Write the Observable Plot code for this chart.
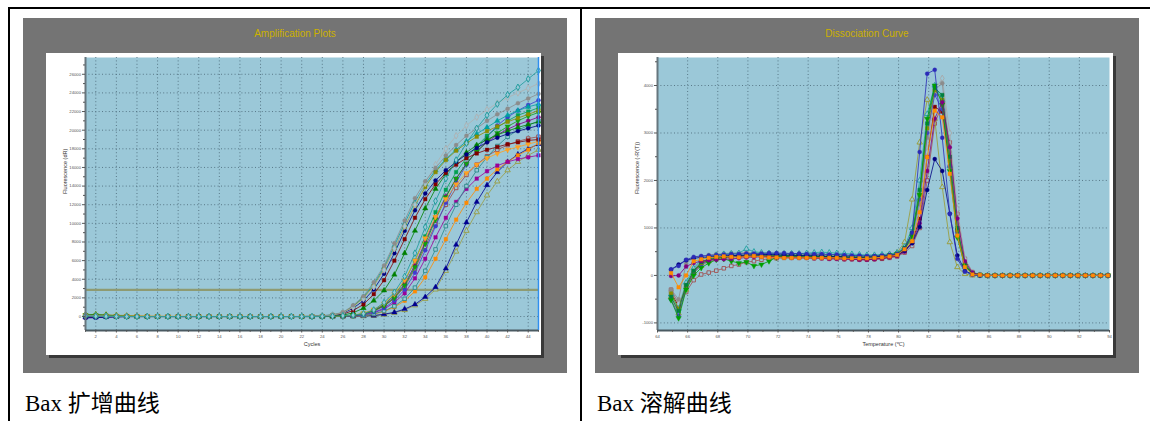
<!DOCTYPE html>
<html><head><meta charset="utf-8">
<script src="https://cdn.jsdelivr.net/npm/d3@7"></script>
<script src="https://cdn.jsdelivr.net/npm/@observablehq/plot@0.6"></script>
<style>
body{margin:0;background:#fff;width:1150px;height:421px;position:relative;overflow:hidden;}
.ln{position:absolute;background:#000;}
.panel{position:absolute;background:#747474;}
.title{position:absolute;font:10px "Liberation Sans",Arial,sans-serif;color:#cdb100;text-align:center;line-height:12px;}
.box{position:absolute;background:#fff;box-shadow:3px 3px 0 #393939;}
.box svg{display:block;}
.cap{position:absolute;font-family:"Liberation Serif","Noto Sans CJK SC",serif;font-size:23px;line-height:1;color:#000;white-space:nowrap;}
</style></head>
<body>
<div class="ln" style="left:8px;top:7px;width:1142px;height:2px"></div>
<div class="ln" style="left:8px;top:7px;width:2px;height:414px"></div>
<div class="ln" style="left:580px;top:7px;width:2px;height:414px"></div>
<div class="panel" style="left:23px;top:18px;width:544px;height:355px"></div>
<div class="panel" style="left:595px;top:18px;width:544px;height:355px"></div>
<div class="title" style="left:23px;top:28px;width:544px">Amplification Plots</div>
<div class="title" style="left:595px;top:28px;width:544px">Dissociation Curve</div>
<div class="box" id="amp" style="left:46px;top:53px;width:495px;height:302px"></div>
<div class="box" id="melt" style="left:618px;top:53px;width:495px;height:302px"></div>
<div class="cap" style="left:25px;top:392px">Bax 扩增曲线</div>
<div class="cap" style="left:597px;top:392px">Bax 溶解曲线</div>
<script>
// ---------- Amplification data ----------
const cycles = [1,2,3,4,5,6,7,8,9,10,11,12,13,14,15,16,17,18,19,20,21,22,23,24,25,26,27,28,29,30,31,32,33,34,35,36,37,38,39,40,41,42,43,44,45];
const ampXTicks = [2,4,6,8,10,12,14,16,18,20,22,24,26,28,30,32,34,36,38,40,42,44];
const ampYTicks = [0,2000,4000,6000,8000,10000,12000,14000,16000,18000,20000,22000,24000,26000];
const ampThreshold = 2865;

const ampA = [150,80,40,20,10,0,0,0,0,0,10,0,0,0,0,10,0,0,0,0,0,10,30,80,200,450,1200,2180,3680,5470,7870,10300,12700,14520,15950,17270,18400,19400,20200,21000,21700,22300,22900,23400,23900];
const ampB = [50,30,20,10,0,0,0,10,0,0,0,0,0,0,0,0,0,0,0,0,0,0,0,20,40,80,150,300,700,1500,2600,4300,6800,9600,12400,14800,16800,18600,20200,21600,22800,23800,24600,25500,26400];
const ampC = [100,60,30,20,10,0,0,0,0,0,0,0,0,0,0,0,10,0,0,0,0,0,20,60,150,400,1000,1900,3200,5000,7300,9700,12000,14300,16300,18000,19400,20500,21400,22200,22900,23500,24000,24500,25000];
const ampD = [120,60,30,10,0,0,0,0,0,0,0,0,0,0,0,0,0,0,0,0,0,0,20,60,160,400,1050,2000,3300,5100,7300,9600,11900,13900,15500,16800,17800,18600,19300,19900,20400,20900,21300,21700,22100];
const ampE = [80,40,20,10,0,0,0,0,0,0,0,0,0,0,0,0,0,0,0,0,0,10,30,80,180,420,1100,2100,3500,5300,7600,10000,12300,14200,15700,16900,17900,18800,19600,20300,21000,21600,22100,22500,22800];
const ampF = [-150,-120,-60,-30,0,0,0,0,0,0,0,0,0,0,0,0,0,0,0,0,0,0,0,50,130,350,900,1700,2900,4600,6800,9200,11400,13200,14600,15700,16600,17400,18100,18700,19200,19600,19900,20200,20500];
const ampG = [60,30,10,0,0,0,0,0,0,0,0,0,0,0,0,0,0,0,0,0,0,0,10,30,100,250,650,1300,2400,3900,6000,8300,10600,12600,14200,15400,16300,17000,17500,17900,18200,18500,18700,18900,19000];
const ampH = [180,200,150,80,40,20,0,0,0,0,0,0,10,0,0,0,0,0,0,0,0,0,0,20,60,150,400,900,1700,2800,4500,6800,9200,11600,13700,15300,16600,17600,18400,19000,19500,19900,20300,20600,20900];
const ampI = [100,80,60,50,40,30,20,20,10,10,10,0,0,0,0,0,0,0,0,0,0,0,0,10,30,60,150,350,750,1400,2400,3900,6000,8400,10700,12600,14200,15400,16300,17000,17500,17900,18200,18500,18800];
const ampJ = [-120,-80,-40,-20,0,0,0,0,0,0,0,0,0,0,0,0,0,0,0,0,0,0,0,10,30,60,120,300,650,1200,2100,3500,5500,8000,10600,12900,14800,16400,17700,18700,19500,20100,20600,21000,21400];
const ampK = [60,40,20,10,0,0,0,0,0,0,0,0,0,0,0,0,0,0,0,0,0,0,0,10,20,50,100,250,550,1100,1950,3200,5100,7500,9900,12000,13800,15200,16300,17200,17900,18400,18800,19100,19300];
const ampL = [90,60,30,10,0,0,0,0,0,0,0,0,0,0,0,0,0,0,0,0,0,0,10,20,40,70,130,320,700,1300,2300,3800,6000,8600,11200,13600,15500,17000,18300,19400,20300,21000,21600,22000,22400];
const ampM = [-60,-40,-20,0,0,0,0,0,0,0,0,0,0,0,0,0,0,0,0,0,0,0,0,10,20,40,80,200,450,900,1700,2900,4700,7100,9700,12200,14400,16300,17900,19300,20500,21400,22100,22700,23200];
const ampN = [120,100,80,60,50,40,30,20,20,10,10,0,0,0,0,0,0,0,0,0,0,0,0,0,10,20,50,100,250,550,1000,1700,2700,4200,6200,8300,10400,12200,13700,14800,15800,16600,17300,17900,18600];
const ampO = [-100,-80,-50,-20,0,0,0,0,0,0,0,0,0,0,0,0,0,0,0,0,0,0,0,0,0,10,30,60,100,250,450,800,1300,2100,3150,5150,7700,10100,12300,14100,15500,16600,17400,18000,18500];
const ampP = [200,220,200,150,100,60,30,10,0,0,0,0,0,0,0,0,0,0,0,0,0,0,0,0,0,10,20,40,80,200,400,700,1200,1900,2900,4900,6970,9200,11200,13000,14500,15700,16600,17300,17900];
const ampQ = [-80,-60,-30,0,0,0,0,0,0,0,0,0,0,0,0,0,0,0,0,0,0,0,0,0,10,30,60,180,400,800,1500,2500,4100,6200,8500,10600,12300,13700,14800,15600,16200,16600,16900,17100,17300];
const ampR = [40,20,10,0,0,0,0,0,0,0,0,0,0,0,0,0,0,0,0,0,0,0,0,0,10,30,60,120,280,600,1100,1900,3100,4900,7200,9700,12000,14000,15700,17100,18300,19300,20000,20500,21000];
const ampS = [150,120,80,40,20,0,0,0,0,0,0,0,0,0,0,0,0,0,0,0,0,0,0,10,20,50,110,280,620,1150,2000,3350,5300,7800,10400,12800,14800,16400,17700,18800,19700,20400,21000,21500,21900];

// ---------- Dissociation data ----------
const temps = [64.9,65.4,65.9,66.4,66.9,67.4,67.9,68.4,68.9,69.4,69.9,70.4,70.9,71.4,71.9,72.4,72.9,73.4,73.9,74.4,74.9,75.4,75.9,76.4,76.9,77.4,77.9,78.4,78.9,79.4,79.9,80.4,80.9,81.4,81.9,82.4,82.9,83.4,83.9,84.4,84.9,85.4,85.9,86.4,86.9,87.4,87.9,88.4,88.9,89.4,89.9,90.4,90.9,91.4,91.9,92.4,92.9,93.4,93.9];
const meltXTicks = [64,66,68,70,72,74,76,78,80,82,84,86,88,90,92,94];
const meltYTicks = [-1000,0,1000,2000,3000,4000];

const meltM1 = [130,200,330,390,410,420, 430,440,450,450,460,460,460,470,470,470,460,460,450,450,450,440,440,430,420,420,410,410,420,430,450, 560,900,2600,4250,4330,2900,1300,350,80,10, 0,0,0,0,0,0,0,0,0,0,0,0,0,0,0,0,0,0];
const meltM2 = [120,230,320,360,380,390, 400,410,420,420,430,430,440,440,440,430,430,420,420,410,410,400,400,390,380,380,380,390,400,410,430, 520,680,1020,1800,2450,2200,1300,420,100,20, 0,0,0,0,0,0,0,0,0,0,0,0,0,0,0,0,0,0];
const meltM3 = [-300,-500,250,380,400,430, 450,460,470,470,480,470,470,470,460,460,460,450,450,440,440,430,430,420,410,410,400,400,410,430,460, 560,760,1500,2900,3900,4050,2600,1100,250,50, 10,0,0,0,0,0,0,0,0,0,0,0,0,0,0,0,0,0];
const meltM4 = [-520,-900,-300,0,160,260, 330,350,300,260,280,200,230,300,380,400,410,410,410,400,400,400,400,390,380,380,380,390,400,420,450, 540,820,1700,3300,4000,3600,2200,800,200,40, 10,0,0,0,0,0,0,0,0,0,0,0,0,0,0,0,0,0];
const meltM5 = [50,-250,0,300,340,370, 390,400,390,380,400,410,390,380,380,370,370,370,370,370,370,370,370,360,360,360,360,370,380,400,430, 550,720,1330,2490,3470,3330,2140,840,175,20, 10,0,0,0,0,0,0,0,0,0,0,0,0,0,0,0,0,0];
const meltM6 = [-10,0,190,260,300,320, 330,340,350,360,380,390,390,390,380,380,370,370,370,360,360,350,350,340,340,330,330,340,360,380,410, 500,680,1100,2200,3300,3650,2700,1200,300,60, 10,0,0,0,0,0,0,0,0,0,0,0,0,0,0,0,0,0];
const meltM7 = [-400,-700,-150,150,330,400, 430,450,460,470,560,500,480,470,460,460,460,460,470,480,490,480,470,460,450,440,430,430,440,450,480, 600,1000,2000,3400,4000,3700,2300,850,180,30, 0,0,0,0,0,0,0,0,0,0,0,0,0,0,0,0,0,0];
const meltM8 = [-350,-650,-250,80,250,320, 360,380,390,400,400,410,410,400,400,400,390,390,390,380,380,370,370,360,350,350,340,350,360,390,420, 520,700,1200,2500,3550,3450,2300,950,220,40, 10,0,0,0,0,0,0,0,0,0,0,0,0,0,0,0,0,0];
const meltM9 = [-300,-600,-350,-100,20,60, 100,150,200,230,280,300,330,350,360,370,370,370,370,360,360,350,350,340,340,330,330,340,350,370,400, 480,620,1000,2000,3200,3600,2800,1300,350,70, 10,0,0,0,0,0,0,0,0,0,0,0,0,0,0,0,0,0];
const meltM10 = [-450,-800,-300,50,200,300, 350,380,400,410,420,420,420,410,410,400,400,400,390,390,390,380,380,380,370,370,370,380,400,430,480, 700,1600,2800,3700,3300,1860,700,175,30,0, 0,0,0,0,0,0,0,0,0,0,0,0,0,0,0,0,0,0];
const meltM11 = [-450,-750,-200,100,280,350, 380,400,410,420,430,430,430,430,420,420,420,410,410,410,400,400,400,390,390,390,390,400,410,430,460, 580,900,1800,3200,3950,3800,2500,1000,250,50, 10,0,0,0,0,0,0,0,0,0,0,0,0,0,0,0,0,0];
const meltM12 = [-350,-600,-200,120,300,380, 420,440,450,460,470,470,470,460,460,450,450,450,440,440,440,430,430,420,420,410,410,410,420,440,470, 560,750,1300,2600,3900,4150,3000,1400,350,60, 10,0,0,0,0,0,0,0,0,0,0,0,0,0,0,0,0,0];
const meltM13 = [-500,-850,-250,60,220,320, 370,390,400,410,410,420,420,420,410,410,410,400,400,400,390,390,390,380,380,370,370,380,390,410,440, 560,850,1600,3000,3800,3500,2300,900,200,40, 10,0,0,0,0,0,0,0,0,0,0,0,0,0,0,0,0,0];
const meltM14 = [-380,-700,-220,90,260,340, 380,400,410,420,420,430,430,420,420,410,410,410,400,400,400,390,390,380,380,380,370,380,400,420,450, 570,880,1700,3100,3900,3700,2400,950,230,50, 10,0,0,0,0,0,0,0,0,0,0,0,0,0,0,0,0,0];

// ---------- series styling (built from the arrays above) ----------
const ampSeries = [
  {v: ampP, c: "#9a9c40", s: "triangle", h: true},
  {v: ampO, c: "#000090", s: "triangle"},
  {v: ampN, c: "#ff8a00", s: "square"},
  {v: ampQ, c: "#9a009a", s: "square"},
  {v: ampK, c: "#a04848", s: "square", h: true},
  {v: ampR, c: "#2a8a8a", s: "square", h: true},
  {v: ampM, c: "#3c3cd0", s: "circle"},
  {v: ampL, c: "#00a050", s: "square"},
  {v: ampJ, c: "#800080", s: "circle"},
  {v: ampS, c: "#10a010", s: "triangle", rot: 180},
  {v: ampI, c: "#ffa020", s: "triangle", rot: 180},
  {v: ampH, c: "#008000", s: "triangle"},
  {v: ampG, c: "#800000", s: "square"},
  {v: ampF, c: "#000080", s: "circle"},
  {v: ampE, c: "#00a0a0", s: "triangle"},
  {v: ampD, c: "#8c8c00", s: "square"},
  {v: ampC, c: "#b0b0b0", s: "diamond", h: true},
  {v: ampA, c: "#8c8c8c", s: "circle"},
  {v: ampB, c: "#1a9a9a", s: "diamond", h: true}
];
const meltSeries = [
  {v: meltM9, c: "#a05050", s: "square", h: true},
  {v: meltM10, c: "#9a9a30", s: "triangle", h: true},
  {v: meltM8, c: "#800000", s: "square"},
  {v: meltM12, c: "#a8a8a8", s: "diamond", h: true},
  {v: meltM3, c: "#8c8c8c", s: "circle"},
  {v: meltM7, c: "#20a0a0", s: "triangle", h: true},
  {v: meltM13, c: "#4040c8", s: "circle"},
  {v: meltM14, c: "#8c8c00", s: "square"},
  {v: meltM11, c: "#008040", s: "square"},
  {v: meltM4, c: "#00a000", s: "triangle", rot: 180},
  {v: meltM6, c: "#800080", s: "circle"},
  {v: meltM2, c: "#000080", s: "circle"},
  {v: meltM1, c: "#2a2ab8", s: "circle"},
  {v: meltM5, c: "#ff8c00", s: "square"}
];

const BG = "#9bc8d8";
const GRID = "#51707f";
const fmt = d => String(d);

function seriesMarks(series, xs) {
  const marks = [];
  series.forEach((s) => {
    const rows = s.v.map((y, i) => ({x: xs[i], y}));
    marks.push(Plot.line(rows, {x: "x", y: "y", stroke: s.c, strokeWidth: 0.8}));
    marks.push(Plot.dot(rows, {x: "x", y: "y", symbol: s.s, r: 2.0, rotate: s.rot || 0,
      fill: s.h ? BG : s.c, stroke: s.c, strokeWidth: s.h ? 0.9 : 0.4}));
  });
  return marks;
}

function chart(o) {
  return Plot.plot({
    width: 495, height: 302,
    marginLeft: 39, marginRight: o.mr, marginTop: 4, marginBottom: 25,
    style: {fontFamily: "'Liberation Sans', 'DejaVu Sans', Arial, sans-serif", background: "#fff", color: "#444"},
    x: {domain: o.xd, label: null},
    y: {domain: o.yd, label: null},
    marks: [
      Plot.frame({fill: BG, stroke: null}),
      Plot.gridX(o.xTicks.filter(t => t > o.xd[0] && t < o.xd[1]), {stroke: GRID, strokeOpacity: 0.9, strokeDasharray: "1,2.4"}),
      Plot.gridY(o.yTicks, {stroke: GRID, strokeOpacity: 0.9, strokeDasharray: "1,2.4"}),
      ...(o.extra || []),
      ...seriesMarks(o.series, o.xs),
      ...(o.after || []),
      Plot.ruleX([o.xd[0]], {stroke: "#66767e", strokeWidth: 2}),
      Plot.ruleY([o.yd[0]], {stroke: "#4a5a62", strokeWidth: 2}),
      Plot.axisY(o.yTicks, {tickSize: 3, tickPadding: 1.5, fontSize: 4.2, tickFormat: fmt, stroke: "#555", fill: "#555", label: null}),
      Plot.axisY(o.yMinor, {tickSize: 2, tickFormat: () => "", stroke: "#555", label: null}),
      Plot.axisX(o.xTicks, {tickSize: 2.5, tickPadding: 2, fontSize: 4.2, tickFormat: fmt, stroke: "#555", fill: "#555", label: null}),
      Plot.axisX(o.xMinor, {tickSize: 1.8, tickFormat: () => "", stroke: "#555", label: null}),
      Plot.text([o.xLabel], {frameAnchor: "bottom", dy: 15, fontSize: 5.5, fill: "#333"}),
      Plot.text([o.yLabel], {frameAnchor: "left", dx: -20, rotate: -90, fontSize: 5.5, fill: "#333"})
    ]
  });
}

const ampMinorY = [-1000,1000,3000,5000,7000,9000,11000,13000,15000,17000,19000,21000,23000,25000,27000];
const ampMinorX = cycles.filter(c => c % 2 === 1);
document.getElementById("amp").appendChild(chart({
  xd: [1, 45], yd: [-1500, 27800], mr: 3,
  xTicks: ampXTicks, xMinor: ampMinorX, yTicks: ampYTicks, yMinor: ampMinorY,
  xs: cycles, series: ampSeries,
  extra: [Plot.ruleY([ampThreshold], {stroke: "#8e9b72", strokeWidth: 2.2})],
  after: [Plot.ruleX([45], {stroke: "#2f8fef", strokeWidth: 1.5})],
  xLabel: "Cycles", yLabel: "Fluorescence (dR)"
}));

const meltMinorY = [-500,500,1500,2500,3500,4500];
const meltMinorX = [65,67,69,71,73,75,77,79,81,83,85,87,89,91,93];
document.getElementById("melt").appendChild(chart({
  xd: [64, 94], yd: [-1160, 4590], mr: 4,
  xTicks: meltXTicks, xMinor: meltMinorX, yTicks: meltYTicks, yMinor: meltMinorY,
  xs: temps, series: meltSeries,
  xLabel: "Temperature (℃)", yLabel: "Fluorescence (-R'(T))"
}));
</script>
</body></html>
